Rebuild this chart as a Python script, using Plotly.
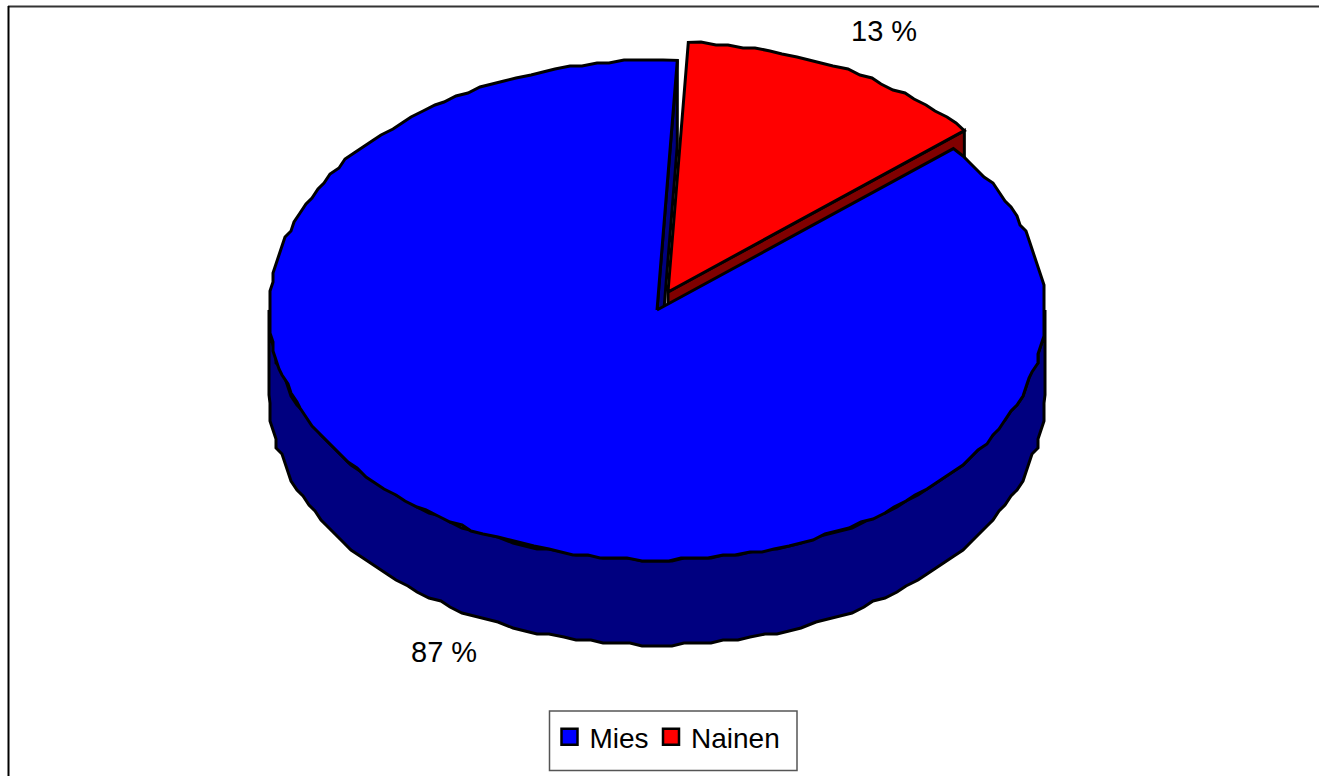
import numpy as np
import plotly.graph_objects as go

categories = ["Mies", "Nainen"]
values = [87, 13]
top_colors = ["#0000FF", "#FF0000"]
wall_colors = ["#000080", "#800000"]

W, H = 1319, 776
CX, CY, RX, RY, DEPTH = 657, 310, 388, 250, 85
START_DEG = 3
EXPLODE = (11, -18)
FONT = "Liberation Sans, Arial, sans-serif"
LW = 3
GRID = 3      # the outline of the reference is coarse and stepped
STEP_DEG = 2

total = sum(values)
nainen_start = START_DEG
nainen_end = nainen_start + 360 * values[1] / total
mies_start = nainen_end
mies_end = nainen_start + 360


def rim(a, b, ox=0, oy=0):
    n = max(2, int(abs(b - a) / STEP_DEG) + 1)
    t = np.radians(np.linspace(a, b, n))
    x = CX + RX * np.sin(t)
    y = CY - RY * np.cos(t)
    xq, yq = np.round(x / GRID) * GRID, np.round(y / GRID) * GRID
    xq[0], yq[0], xq[-1], yq[-1] = x[0], y[0], x[-1], y[-1]
    return xq + ox, yq + oy


def poly(xs, ys, color):
    return go.Scatter(x=list(xs), y=list(ys), mode="lines", fill="toself", fillcolor=color,
                      line=dict(color="black", width=LW, simplify=False), hoverinfo="skip", showlegend=False)


def top_slice(a, b, ox=0, oy=0):
    x, y = rim(a, b, ox, oy)
    return np.r_[CX + ox, x, CX + ox], np.r_[CY + oy, y, CY + oy]


def radial_wall(a, ox=0, oy=0):
    t = np.radians(a)
    ex, ey = CX + ox + RX * np.sin(t), CY + oy - RY * np.cos(t)
    ax, ay = CX + ox, CY + oy
    return [ax, ex, ex, ax, ax], [ay, ey, ey + DEPTH, ay + DEPTH, ay]


fig = go.Figure()

x, y = rim(90, 270)
fig.add_trace(poly(np.r_[x, x[::-1], x[0]], np.r_[y, y[::-1] + DEPTH, y[0]], wall_colors[0]))
fig.add_trace(poly(*radial_wall(mies_end), wall_colors[0]))
fig.add_trace(poly(*radial_wall(nainen_end, *EXPLODE), wall_colors[1]))
fig.add_trace(poly(*top_slice(mies_start, mies_end), top_colors[0]))
fig.add_trace(poly(*top_slice(nainen_start, nainen_end, *EXPLODE), top_colors[1]))

for cat, col, leg in zip(categories, top_colors, ["legend", "legend2"]):
    fig.add_trace(go.Scatter(x=[None], y=[None], mode="markers", name=cat, legend=leg, showlegend=True,
                             marker=dict(symbol="square", size=20, color=col,
                                         line=dict(color="black", width=2.5))))

label_pos = {"Mies": (444, 652), "Nainen": (884, 31)}
annotations = [dict(x=label_pos[c][0], y=label_pos[c][1], xref="x", yref="y", text=f"{v} %",
                    showarrow=False, font=dict(family=FONT, size=29, color="black"))
               for c, v in zip(categories, values)]

shapes = [
    dict(type="line", xref="x", yref="y", x0=8, x1=W, y0=6.5, y1=6.5, line=dict(color="#333333", width=2), layer="below"),
    dict(type="line", xref="x", yref="y", x0=8.5, x1=8.5, y0=6, y1=H, line=dict(color="black", width=2), layer="below"),
    dict(type="rect", xref="x", yref="y", x0=549.5, x1=797, y0=711, y1=770.5,
         line=dict(color="#555555", width=1.5), fillcolor="white", layer="below"),
]


def legend_box(left):
    return dict(orientation="h", x=left / W, xanchor="left", y=1 - 712 / H, yanchor="top",
                bgcolor="rgba(0,0,0,0)", borderwidth=0,
                font=dict(family=FONT, size=28, color="black"), itemwidth=30)


fig.update_layout(
    width=W, height=H, margin=dict(l=0, r=0, t=0, b=0, pad=0),
    paper_bgcolor="white", plot_bgcolor="white",
    xaxis=dict(range=[0, W], visible=False, fixedrange=True),
    yaxis=dict(range=[H, 0], visible=False, fixedrange=True),
    annotations=annotations, shapes=shapes,
    legend=legend_box(549.5), legend2=legend_box(651),
    font=dict(family=FONT),
)
fig.write_html("out.html", config={"displayModeBar": False},
               post_script='document.body.style.margin="0";document.body.style.overflow="hidden";')
